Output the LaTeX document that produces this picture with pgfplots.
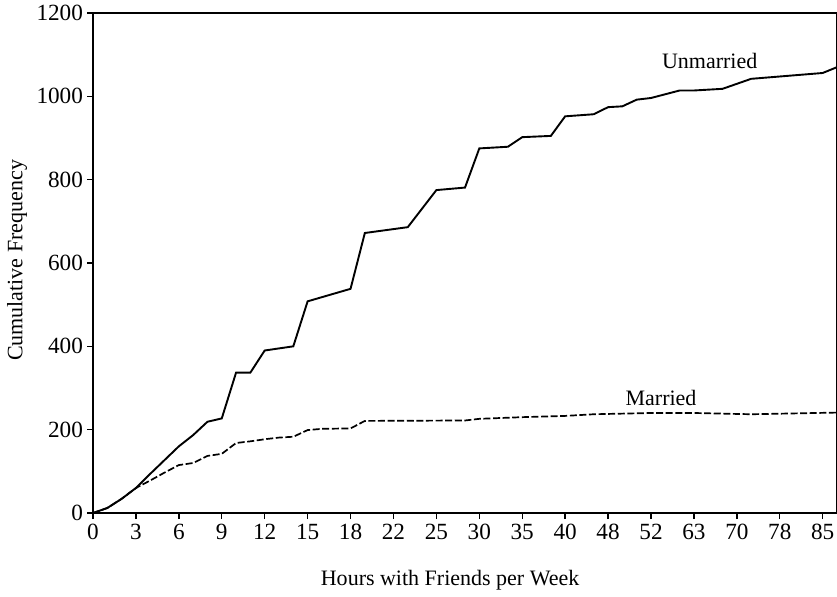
\documentclass[border=0pt]{standalone}
\usepackage{pgfplots}
\pgfplotsset{compat=1.18}
\usepackage{fontspec}
\setmainfont{Liberation Serif}
\begin{document}
\begin{tikzpicture}
\begin{axis}[
  scale only axis,
  width=372pt, height=250pt,
  xmin=0, xmax=52, ymin=0, ymax=1200,
  xtick={0,3,...,51},
  xticklabels={0,3,6,9,12,15,18,22,25,30,35,40,48,52,63,70,78,85},
  ytick={0,200,...,1200},
  tick align=outside,
  tick pos=left,
  major tick length=3pt,
  axis line style={line width=0.9pt},
  every tick/.style={black, line width=0.7pt},
  /pgf/number format/assume math mode=true,
  /pgf/number format/1000 sep={},
  tick label style={font=\fontsize{11.6}{13}\selectfont},
  xticklabel style={yshift=1pt},
  yticklabel style={xshift=1.5pt},
  xlabel={Hours with Friends per Week},
  ylabel={Cumulative Frequency},
  label style={font=\fontsize{11}{13}\selectfont},
  xlabel style={at={(axis description cs:0.48,-0.134)}, anchor=center},
  ylabel style={at={(axis description cs:-0.102,0.505)}, anchor=center},
  clip=false,
]
\addplot[black, line width=0.95pt] coordinates {
(0,0) (1,12) (2,34) (3,60) (4,94) (5,127) (6,160) (7,187) (8,219) (9,227)
(10,337) (11,337) (12,390) (13,395) (14,400) (15,508) (18,538) (19,672)
(22,686) (24,775) (26,781) (27,875) (29,879) (30,902) (32,905) (33,952)
(35,957) (36,974) (37,976) (38,992) (39,996) (41,1014) (42,1014) (44,1018)
(46,1042) (51,1056) (52,1070)
};
\addplot[black, line width=0.85pt, dash pattern=on 3.5pt off 1.3pt] coordinates {
(0,0) (1,12) (2,34) (3,60) (4,78) (5,97) (6,115) (7,120) (8,137) (9,142)
(10,168) (11,172) (12,177) (13,181) (14,183) (15,199) (16,202) (18,203)
(19,221) (26,222) (27,226) (30,230) (33,233) (35,237) (39,240) (42,240)
(46,237) (52,241)
};
\node[font=\fontsize{11}{13}\selectfont] at (axis cs:43.1,1085) {Unmarried};
\node[font=\fontsize{11}{13}\selectfont] at (axis cs:39.7,277) {Married};
\coordinate (bl) at (axis description cs:-0.125,-0.168);
\coordinate (tr) at (axis description cs:1.0,1.026);
\end{axis}
\pgfresetboundingbox
\path (bl) rectangle (tr);
\end{tikzpicture}
\end{document}
